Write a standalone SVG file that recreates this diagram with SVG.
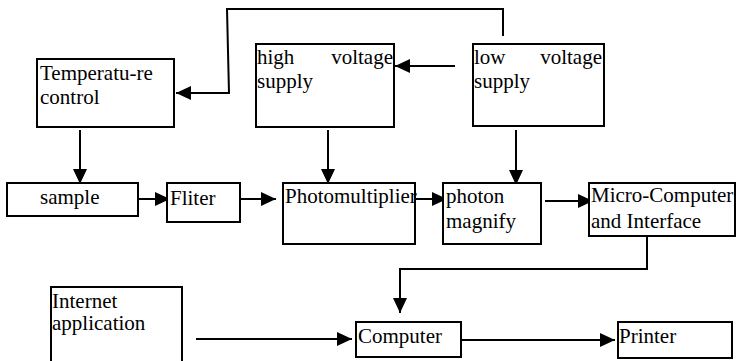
<svg xmlns="http://www.w3.org/2000/svg" width="736" height="361" viewBox="0 0 736 361">
<defs>
<style>
.box{fill:#fff;stroke:#000;stroke-width:2}
.t{font-family:"Liberation Serif","Times New Roman",serif;font-size:21px;fill:#000}
.c{fill:none;stroke:#000;stroke-width:2}
</style>
<marker id="ah" markerUnits="userSpaceOnUse" markerWidth="16" markerHeight="16" refX="15" refY="7" orient="auto" viewBox="0 0 16 14">
<path d="M0,0 L15,7 L0,14 z" fill="#000"/>
</marker>
</defs>
<rect width="736" height="361" fill="#fff"/>
<g id="connectors">
<polyline class="c" points="503,36 503,9 227,9 229,93 176,93" marker-end="url(#ah)"/>
<line class="c" x1="455" y1="66" x2="395" y2="66" marker-end="url(#ah)"/>
<line class="c" x1="80" y1="130" x2="80" y2="184" marker-end="url(#ah)"/>
<line class="c" x1="328" y1="130" x2="328" y2="184" marker-end="url(#ah)"/>
<line class="c" x1="516" y1="130" x2="516" y2="185" marker-end="url(#ah)"/>
<line class="c" x1="138" y1="199" x2="170" y2="199" marker-end="url(#ah)"/>
<line class="c" x1="241" y1="199" x2="276" y2="199" marker-end="url(#ah)"/>
<line class="c" x1="415" y1="199" x2="447" y2="199" marker-end="url(#ah)"/>
<line class="c" x1="545" y1="201" x2="593" y2="201" marker-end="url(#ah)"/>
<polyline class="c" points="647,236 647,269 400,269 400,313" marker-end="url(#ah)"/>
<line class="c" x1="196" y1="339" x2="352" y2="339" marker-end="url(#ah)"/>
<line class="c" x1="458" y1="340" x2="615" y2="340" marker-end="url(#ah)"/>
</g>
<g id="temperature-control">
<rect class="box" x="37" y="59" width="137" height="68"/>
<text class="t" x="40" y="80">Temperatu-re</text>
<text class="t" x="40" y="104">control</text>
</g>
<g id="high-voltage-supply">
<rect class="box" x="256" y="44" width="138" height="83"/>
<text class="t" x="257" y="64">high</text>
<text class="t" x="393" y="64" text-anchor="end">voltage</text>
<text class="t" x="257" y="88">supply</text>
</g>
<g id="low-voltage-supply">
<rect class="box" x="473" y="44" width="131" height="82"/>
<text class="t" x="474" y="64">low</text>
<text class="t" x="602" y="64" text-anchor="end">voltage</text>
<text class="t" x="474" y="88">supply</text>
</g>
<g id="sample">
<rect class="box" x="7" y="183" width="131" height="33"/>
<text class="t" x="40" y="204">sample</text>
</g>
<g id="fliter">
<rect class="box" x="167" y="183" width="73" height="39"/>
<text class="t" x="170" y="205">Fliter</text>
</g>
<g id="photomultiplier">
<rect class="box" x="283" y="183" width="132" height="61"/>
<text class="t" x="285" y="203">Photomultiplier</text>
</g>
<g id="photon-magnify">
<rect class="box" x="443" y="183" width="98" height="61"/>
<text class="t" x="446" y="203">photon</text>
<text class="t" x="446" y="228">magnify</text>
</g>
<g id="micro-computer">
<rect class="box" x="589" y="183" width="146" height="53"/>
<text class="t" x="591" y="202">Micro-Computer</text>
<text class="t" x="591" y="228">and Interface</text>
</g>
<g id="internet-application">
<rect class="box" x="51" y="287" width="131" height="80"/>
<text class="t" x="52" y="308">Internet</text>
<text class="t" x="52" y="330">application</text>
</g>
<g id="computer">
<rect class="box" x="356" y="322" width="105" height="35"/>
<text class="t" x="358" y="343">Computer</text>
</g>
<g id="printer">
<rect class="box" x="618" y="322" width="114" height="36"/>
<text class="t" x="619" y="343">Printer</text>
</g>
</svg>
